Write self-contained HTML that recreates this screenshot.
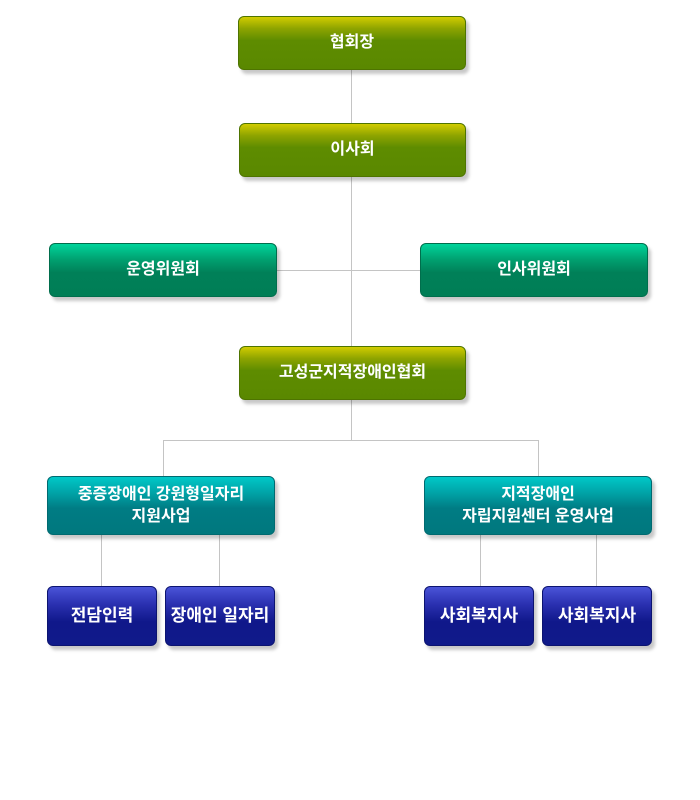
<!DOCTYPE html>
<html><head><meta charset="utf-8"><style>
html,body{margin:0;padding:0;background:#fff;width:700px;height:800px;overflow:hidden}
.b{position:absolute;border-radius:6px;color:#fff;font-family:"Liberation Sans","Noto Sans CJK KR",sans-serif;font-size:16px;font-weight:bold;display:flex;align-items:center;justify-content:center;text-align:center;line-height:22px;box-shadow:3px 4px 3px rgba(0,0,0,0.22);box-sizing:border-box}
.g{background:linear-gradient(#d2cc00 0%,#8ea400 22%,#5e8c00 45%,#5a8800 100%);border:1px solid #4e7400}
.t{background:linear-gradient(#00d49a 0%,#00a070 30%,#008058 55%,#007e56 100%);border:1px solid #006e4c}
.c{background:linear-gradient(#00c8c8 0%,#00a0a4 30%,#007c84 55%,#00787e 100%);border:1px solid #006a70}
.u{background:linear-gradient(#4a54d8 0%,#2a30b0 30%,#10188a 60%,#101a8a 100%);border:1px solid #0c1470;font-size:17px}
.l{position:absolute;background:#c4c4c4}
</style></head><body>
<div class="l" style="left:351px;top:70px;width:1px;height:370px"></div>
<div class="l" style="left:277px;top:270px;width:143px;height:1px"></div>
<div class="l" style="left:163px;top:440px;width:376px;height:1px"></div>
<div class="l" style="left:163px;top:440px;width:1px;height:36px"></div>
<div class="l" style="left:538px;top:440px;width:1px;height:36px"></div>
<div class="l" style="left:101px;top:535px;width:1px;height:51px"></div>
<div class="l" style="left:219px;top:535px;width:1px;height:51px"></div>
<div class="l" style="left:480px;top:535px;width:1px;height:51px"></div>
<div class="l" style="left:596px;top:535px;width:1px;height:51px"></div>

<div class="b g" style="left:238px;top:16px;width:228px;height:54px">협회장</div>
<div class="b g" style="left:239px;top:123px;width:227px;height:54px">이사회</div>
<div class="b t" style="left:49px;top:243px;width:228px;height:54px">운영위원회</div>
<div class="b t" style="left:420px;top:243px;width:228px;height:54px">인사위원회</div>
<div class="b g" style="left:239px;top:346px;width:227px;height:54px">고성군지적장애인협회</div>
<div class="b c" style="left:47px;top:476px;width:228px;height:59px">중증장애인 강원형일자리<br>지원사업</div>
<div class="b c" style="left:424px;top:476px;width:228px;height:59px">지적장애인<br>자립지원센터 운영사업</div>
<div class="b u" style="left:47px;top:586px;width:110px;height:60px">전담인력</div>
<div class="b u" style="left:165px;top:586px;width:110px;height:60px">장애인 일자리</div>
<div class="b u" style="left:424px;top:586px;width:110px;height:60px">사회복지사</div>
<div class="b u" style="left:542px;top:586px;width:110px;height:60px">사회복지사</div>
</body></html>
